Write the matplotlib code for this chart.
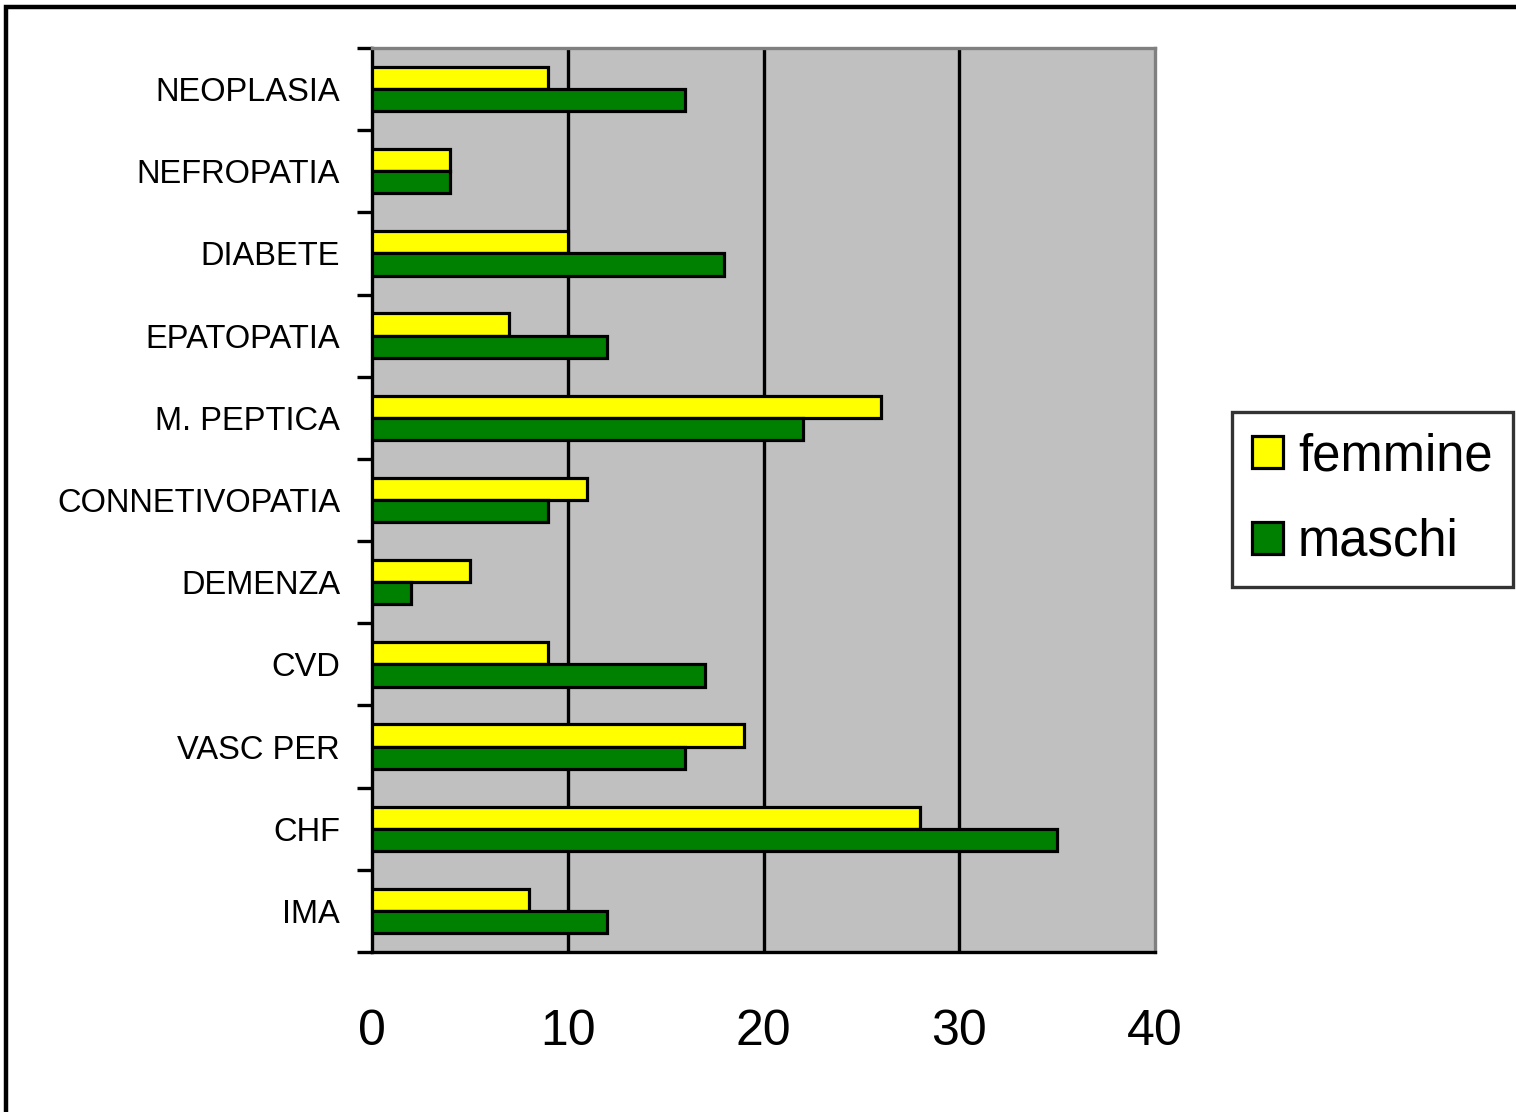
import numpy as np
import matplotlib
matplotlib.use("Agg")
import matplotlib.pyplot as plt
from matplotlib.patches import Rectangle

plt.rcParams['font.family'] = ['Liberation Sans', 'DejaVu Sans']

categories = ['NEOPLASIA', 'NEFROPATIA', 'DIABETE', 'EPATOPATIA', 'M. PEPTICA',
              'CONNETIVOPATIA', 'DEMENZA', 'CVD', 'VASC PER', 'CHF', 'IMA']
femmine = [9, 4, 10, 7, 26, 11, 5, 9, 19, 28, 8]
maschi = [16, 4, 18, 12, 22, 9, 2, 17, 16, 35, 12]
x_ticks = [0, 10, 20, 30, 40]

fig = plt.figure(figsize=(15.16, 11.12), dpi=100)
ax = fig.add_axes([0.2454, 0.1439, 0.5165, 0.8129])

# outer frame of the chart sheet (runs off the right and bottom edges)
fig.patches.append(Rectangle((0.0037, -0.05), 1.1, 1.0436, transform=fig.transFigure,
                             fill=False, edgecolor='black', linewidth=3.2, zorder=0))

y = np.arange(len(categories))
h = 0.27
ax.barh(y - h / 2, femmine, height=h, color='#FFFF00', edgecolor='black',
        linewidth=2.3, label='femmine', zorder=3)
ax.barh(y + h / 2, maschi, height=h, color='#008000', edgecolor='black',
        linewidth=2.3, label='maschi', zorder=3)

ax.set_facecolor('#C0C0C0')
ax.set_xlim(0, 40)
ax.set_ylim(len(categories) - 0.5, -0.5)

for gx in x_ticks[1:-1]:
    ax.axvline(gx, color='black', linewidth=2.4, zorder=1)

ax.set_xticks(x_ticks)
ax.set_xticklabels([str(v) for v in x_ticks], fontsize=36)
ax.tick_params(axis='x', length=0, pad=41)

# category labels centred, ticks at the category boundaries
ax.set_yticks(y)
ax.set_yticklabels(categories, fontsize=23.5)
ax.tick_params(axis='y', which='major', length=0, pad=23)
ax.set_yticks(np.arange(len(categories) + 1) - 0.5, minor=True)
ax.tick_params(axis='y', which='minor', length=11, width=2.4, direction='out')

ax.spines['left'].set_linewidth(2.4)
ax.spines['bottom'].set_linewidth(2.4)
ax.spines['top'].set_color('#808080')
ax.spines['right'].set_color('#808080')
ax.spines['top'].set_linewidth(2.4)
ax.spines['right'].set_linewidth(2.4)

leg = fig.legend(loc='upper left', bbox_to_anchor=(0.8127, 0.6295),
                 fontsize=36.5, frameon=True, fancybox=False, handlelength=0.6,
                 handleheight=0.6, handletextpad=0.3, labelspacing=0.72,
                 borderpad=0.4, borderaxespad=0)
leg.get_frame().set_edgecolor('black')
leg.get_frame().set_linewidth(2.4)

fig.savefig('out.png', dpi=100)
